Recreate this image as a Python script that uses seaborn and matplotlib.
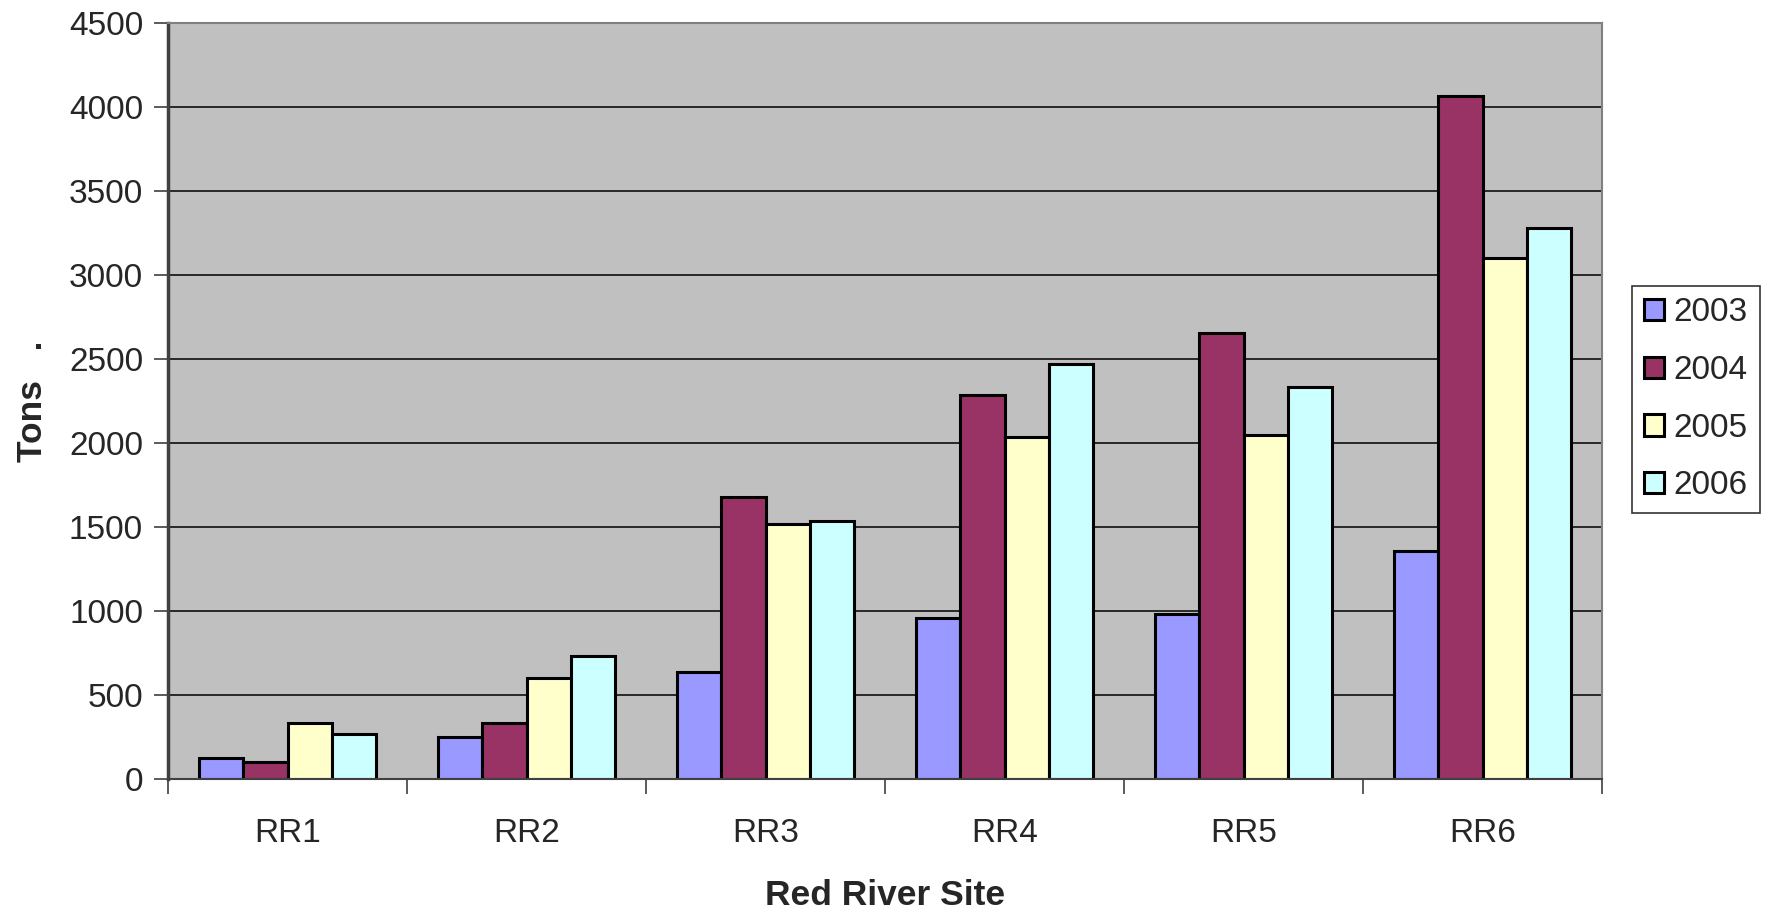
import pandas as pd
import seaborn as sns
import matplotlib.pyplot as plt
import numpy as np

sites = ['RR1', 'RR2', 'RR3', 'RR4', 'RR5', 'RR6']
years = ['2003', '2004', '2005', '2006']
tons_2003 = [123, 252, 637, 959, 979, 1355]
tons_2004 = [103, 331, 1677, 2287, 2656, 4064]
tons_2005 = [331, 603, 1516, 2032, 2046, 3099]
tons_2006 = [266, 732, 1536, 2468, 2334, 3280]
colors = ['#9999FF', '#993366', '#FFFFCC', '#CCFFFF']

df = pd.DataFrame({
  'Site': sites * 4,
  'Year': sum([[y] * len(sites) for y in years], []),
  'Tons': tons_2003 + tons_2004 + tons_2005 + tons_2006,
})

sns.set_style('white')
plt.rcParams['font.family'] = ['Liberation Sans', 'DejaVu Sans']

fig = plt.figure(figsize=(17.69, 9.10), dpi=100)
ax = fig.add_axes([0.095, 0.144, 0.8106, 0.831])
ax.set_facecolor('#C0C0C0')

sns.barplot(
  data=df, x='Site', y='Tons', hue='Year',
  palette=colors, width=0.74, gap=0,
  edgecolor='black', linewidth=2.2, saturation=1,
  ax=ax, legend=True
)

ax.set_ylim(0, 4500)
ax.set_xlim(-0.5, 5.5)
ax.set_yticks(np.arange(0, 4501, 500))
ax.yaxis.grid(True, color='black', linewidth=1.1)
ax.set_axisbelow(True)
ax.tick_params(axis='y', labelsize=24, length=10, width=1.2, color='#404040',
               direction='out', left=True, pad=8)
ax.tick_params(axis='x', which='major', labelsize=24, length=0, pad=28)
ax.set_xticks(np.arange(-0.5, 6, 1), minor=True)
ax.tick_params(axis='x', which='minor', length=11, width=1.2, color='#404040',
               direction='out', bottom=True)

for s in ['top', 'right']:
  ax.spines[s].set_color('#808080')
  ax.spines[s].set_linewidth(1.5)
ax.spines['left'].set_color('#404040')
ax.spines['left'].set_linewidth(2.5)
ax.spines['bottom'].set_color('#404040')
ax.spines['bottom'].set_linewidth(1.5)

ax.set_xlabel('Red River Site', fontsize=25.5, fontweight='bold', labelpad=22)
ax.set_ylabel('Tons   .', fontsize=25.5, fontweight='bold', labelpad=14)

handles, labels = ax.get_legend_handles_labels()
ax.legend_.remove()
leg = fig.legend(
  handles, labels, loc='center left', bbox_to_anchor=(0.9226, 0.561),
  borderaxespad=0, fontsize=24, frameon=True, fancybox=False,
  edgecolor='black', handlelength=0.6, handleheight=0.6,
  handletextpad=0.3, labelspacing=0.8, borderpad=0.35
)
leg.get_frame().set_linewidth(1.2)

plt.savefig('out.png', dpi=100)
plt.close()
